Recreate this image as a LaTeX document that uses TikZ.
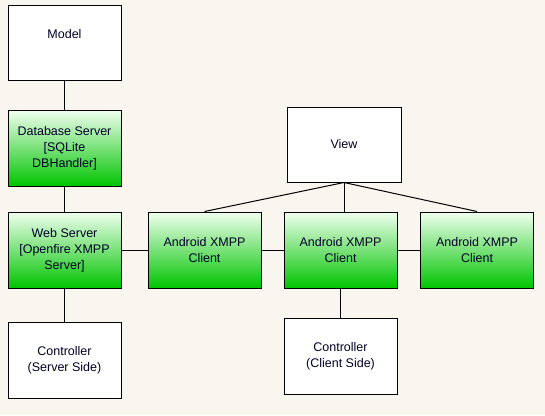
\documentclass[tikz,border=0pt]{standalone}
\usepackage{fontspec}
\setmainfont{Liberation Sans}
\begin{document}
\begin{tikzpicture}[x=1pt,y=-1pt,
  boxbase/.style={draw=black, line width=1pt, minimum width=113pt, minimum height=76pt, inner sep=2pt, align=center, text=black!85!blue, font=\fontsize{12.5pt}{16pt}\selectfont},
  whitebox/.style={boxbase, fill=white},
  greenbox/.style={boxbase, top color=green!6!white, bottom color=gbottom, shading angle=0},
  conn/.style={draw=black, line width=1pt}
]
\definecolor{gbottom}{RGB}{0,196,0}
\definecolor{bgc}{RGB}{249,246,239}
\fill[bgc] (0,0) rectangle (545,415);
\useasboundingbox (0,0) rectangle (545,415);

\node[whitebox, minimum height=75pt, text depth=17pt] (model) at (64.5,42.5) {Model};
\node[greenbox] (db) at (64.5,148) {Database Server\\{}[SQLite\\DBHandler]};
\node[greenbox] (web) at (64.5,250) {Web Server\\{}[Openfire XMPP\\Server]};
\node[whitebox] (ctrls) at (64.5,360) {Controller\\(Server Side)};
\node[greenbox] (a1) at (204.5,250) {Android XMPP\\Client};
\node[greenbox] (a2) at (340.5,250) {Android XMPP\\Client};
\node[greenbox] (a3) at (477,250) {Android XMPP\\Client};
\node[whitebox, minimum width=114pt, minimum height=75pt] (view) at (344,144.5) {View};
\node[whitebox] (ctrlc) at (340.5,356) {Controller\\(Client Side)};

\draw[conn] (model) -- (db);
\draw[conn] (db) -- (web);
\draw[conn] (web) -- (ctrls);
\draw[conn] (web) -- (a1);
\draw[conn] (a1) -- (a2);
\draw[conn] (a2) -- (a3);
\draw[conn] (a2) -- (ctrlc);
\draw[conn] (view.south) -- (a1.north);
\draw[conn] (view.south) -- (a2.north -| view.south);
\draw[conn] (view.south) -- (a3.north);
\end{tikzpicture}
\end{document}
